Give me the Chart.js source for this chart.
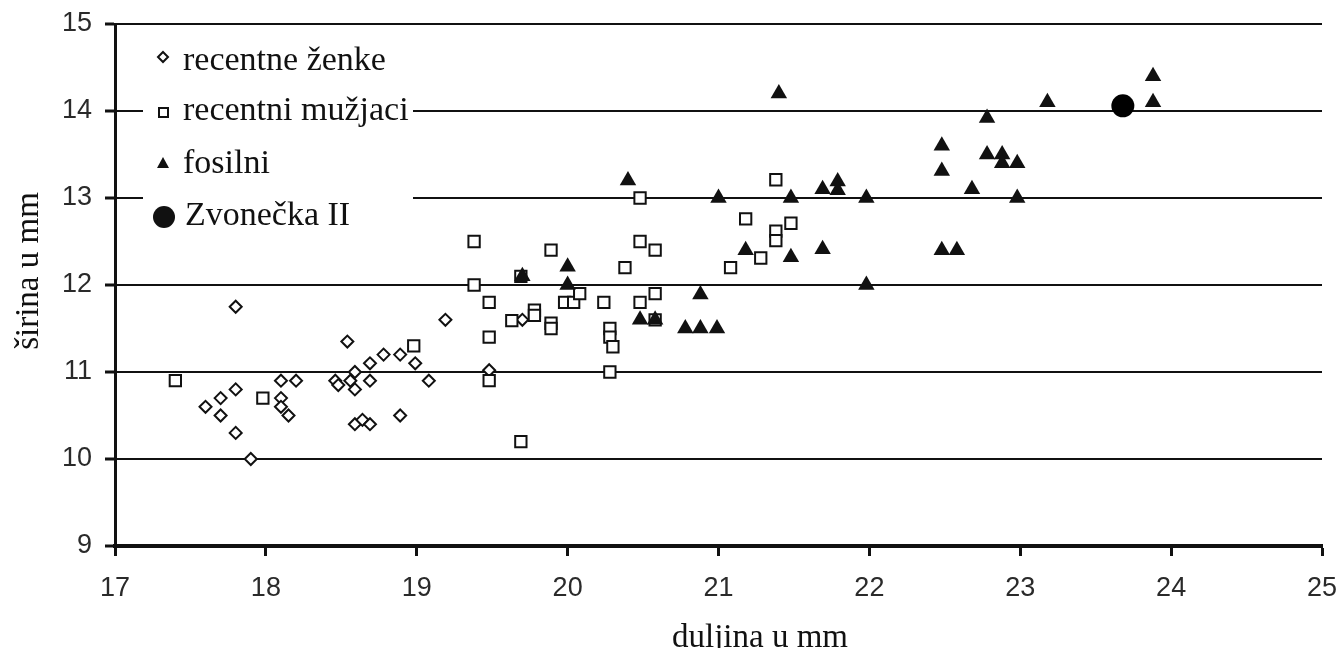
<!DOCTYPE html>
<html lang="hr">
<head>
  <meta charset="UTF-8" />
  <title>Duljina i širina</title>
  <script src="https://cdn.jsdelivr.net/npm/chart.js"></script>
  <style>
    html, body { margin: 0; padding: 0; background: #fff; }
    canvas { display: block; }
  </style>
</head>
<body>
  <canvas id="chart" width="1341" height="648"></canvas>

  <script>
    // recentne ženke
    const zenkeX = [17.6, 17.7, 17.7, 17.8, 17.8, 17.8, 17.9, 18.1, 18.1, 18.1, 18.15, 18.2, 18.46, 18.48,
      18.54, 18.59, 18.56, 18.59, 18.59, 18.64, 18.69, 18.69, 18.69, 18.78, 18.89, 18.89, 18.99, 19.08,
      19.19, 19.48, 19.7];
    const zenkeY = [10.6, 10.7, 10.5, 11.75, 10.8, 10.3, 10.0, 10.9, 10.7, 10.6, 10.5, 10.9, 10.9, 10.85,
      11.35, 11.0, 10.9, 10.8, 10.4, 10.45, 11.1, 10.9, 10.4, 11.2, 11.2, 10.5, 11.1, 10.9,
      11.6, 11.02, 11.6];

    // recentni mužjaci
    const muzjaciX = [17.4, 17.98, 18.98, 19.38, 19.38, 19.48, 19.48, 19.48, 19.63, 19.78, 19.78, 19.89,
      19.89, 19.89, 19.69, 19.69, 19.98, 20.04, 20.08, 20.24, 20.28, 20.28, 20.3, 20.28, 20.38, 20.48,
      20.48, 20.48, 20.58, 20.58, 20.58, 21.08, 21.18, 21.28, 21.38, 21.38, 21.38, 21.48];
    const muzjaciY = [10.9, 10.7, 11.3, 12.5, 12.0, 11.8, 11.4, 10.9, 11.59, 11.71, 11.65, 12.4,
      11.56, 11.5, 10.2, 12.1, 11.8, 11.8, 11.9, 11.8, 11.5, 11.4, 11.29, 11.0, 12.2, 12.5,
      13.0, 11.8, 12.4, 11.9, 11.6, 12.2, 12.76, 12.31, 13.21, 12.62, 12.51, 12.71];

    // fosilni
    const fosilniX = [19.7, 20.0, 20.0, 20.4, 20.48, 20.58, 20.78, 20.88, 20.99, 20.88, 21.0, 21.18,
      21.4, 21.48, 21.48, 21.69, 21.69, 21.79, 21.79, 21.98, 21.98, 22.48, 22.48, 22.48, 22.58, 22.68,
      22.78, 22.78, 22.88, 22.88, 22.98, 22.98, 23.18, 23.88, 23.88];
    const fosilniY = [12.1, 12.21, 12.0, 13.2, 11.6, 11.6, 11.5, 11.5, 11.5, 11.89, 13.0, 12.4,
      14.2, 13.0, 12.32, 13.1, 12.41, 13.19, 13.09, 13.0, 12.0, 13.6, 13.31, 12.4, 12.4, 13.1,
      13.92, 13.5, 13.5, 13.4, 13.4, 13.0, 14.1, 14.4, 14.1];

    // Zvonečka II
    const zvoneckaX = [23.68];
    const zvoneckaY = [14.06];

    const legendLabels = ['recentne ženke', 'recentni mužjaci', 'fosilni', 'Zvonečka II'];
    const xTitle = 'duljina u mm';
    const yTitle = 'širina u mm';

    const ink = '#111';
    const pts = (xs, ys) => xs.map((x, i) => ({ x: x, y: ys[i] }));

    // legenda unutar grafa + naslovi osi
    const extras = {
      id: 'extras',
      afterDraw(chart) {
        const ctx = chart.ctx;
        ctx.save();
        // bijela podloga legende prekriva mrežu
        ctx.fillStyle = '#fff';
        ctx.fillRect(143, 34, 270, 206);

        ctx.fillStyle = ink;
        ctx.strokeStyle = ink;
        ctx.lineWidth = 2;
        // romb
        ctx.beginPath();
        ctx.moveTo(163, 52); ctx.lineTo(168, 57); ctx.lineTo(163, 62); ctx.lineTo(158, 57);
        ctx.closePath();
        ctx.stroke();
        // kvadrat
        ctx.strokeRect(159, 108, 9, 9);
        // trokut
        ctx.beginPath();
        ctx.moveTo(163, 157); ctx.lineTo(169, 168); ctx.lineTo(157, 168);
        ctx.closePath();
        ctx.fill();
        // krug
        ctx.beginPath();
        ctx.arc(164, 217, 11, 0, Math.PI * 2);
        ctx.fill();

        ctx.font = '34px "Liberation Serif", "Times New Roman", serif';
        ctx.textAlign = 'left';
        ctx.textBaseline = 'alphabetic';
        ctx.fillText(legendLabels[0], 183, 70);
        ctx.fillText(legendLabels[1], 183, 120);
        ctx.fillText(legendLabels[2], 183, 173);
        ctx.fillText(legendLabels[3], 185, 225);

        ctx.font = '33px "Liberation Serif", "Times New Roman", serif';
        ctx.textAlign = 'center';
        ctx.fillText(xTitle, 760, 647);
        ctx.translate(38, 271);
        ctx.rotate(-Math.PI / 2);
        ctx.fillText(yTitle, 0, 0);
        ctx.restore();
      }
    };

    const tickFont = { family: '"Liberation Sans", Arial, sans-serif', size: 27 };

    new Chart(document.getElementById('chart'), {
      type: 'scatter',
      data: {
        datasets: [
          {
            label: legendLabels[0],
            data: pts(zenkeX, zenkeY),
            pointStyle: 'rectRot',
            radius: 6,
            borderWidth: 2,
            borderColor: ink,
            backgroundColor: '#fff',
            order: 4
          },
          {
            label: legendLabels[1],
            data: pts(muzjaciX, muzjaciY),
            pointStyle: 'rect',
            radius: 8,
            borderWidth: 2,
            borderColor: ink,
            backgroundColor: '#fff',
            order: 3
          },
          {
            label: legendLabels[2],
            data: pts(fosilniX, fosilniY),
            pointStyle: 'triangle',
            radius: 9.5,
            borderWidth: 0,
            borderColor: ink,
            backgroundColor: ink,
            order: 2
          },
          {
            label: legendLabels[3],
            data: pts(zvoneckaX, zvoneckaY),
            pointStyle: 'circle',
            radius: 11.5,
            borderWidth: 0,
            backgroundColor: '#000',
            order: 1
          }
        ]
      },
      options: {
        responsive: false,
        animation: false,
        layout: { padding: { top: 24, right: 19, bottom: 0, left: 0 } },
        plugins: {
          legend: { display: false },
          tooltip: { enabled: false }
        },
        scales: {
          x: {
            type: 'linear',
            min: 17,
            max: 25,
            afterFit(s) { s.height = 102; s.paddingLeft = 0; s.paddingRight = 0; },
            ticks: { stepSize: 1, color: '#2a2a2a', font: tickFont, padding: 16, maxRotation: 0 },
            grid: { drawOnChartArea: false, drawTicks: true, tickLength: 10, tickWidth: 3, tickColor: ink },
            border: { color: ink, width: 4 }
          },
          y: {
            type: 'linear',
            min: 9,
            max: 15,
            afterFit(s) { s.width = 115; s.paddingTop = 0; s.paddingBottom = 0; },
            ticks: { stepSize: 1, color: '#2a2a2a', font: tickFont, padding: 13 },
            grid: { color: ink, lineWidth: 2, tickLength: 10, tickWidth: 3, tickColor: ink },
            border: { color: ink, width: 3 }
          }
        }
      },
      plugins: [extras]
    });
  </script>
</body>
</html>
